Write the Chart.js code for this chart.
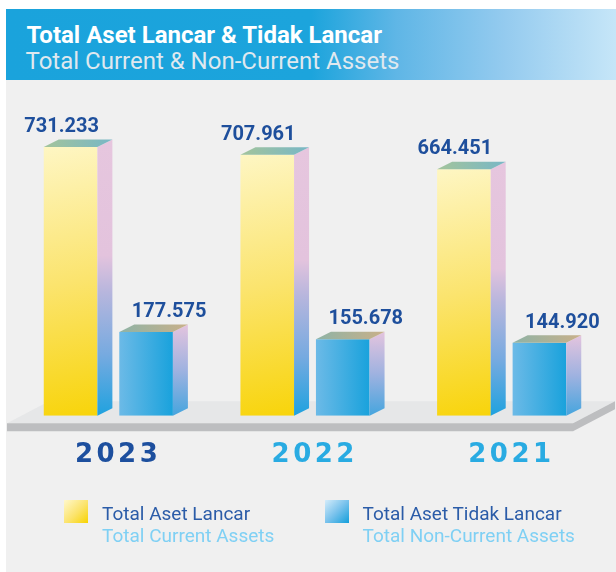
<!DOCTYPE html>
<html>
<head>
<meta charset="utf-8">
<script src="https://cdn.jsdelivr.net/npm/chart.js@4/dist/chart.umd.min.js"></script>
<style>
html,body{margin:0;padding:0;background:#fff;width:616px;height:572px;overflow:hidden;font-family:Roboto,sans-serif;}
#panel{position:absolute;left:6px;top:80px;width:610px;height:492px;background:#f0f0f0;}
#header{position:absolute;left:6px;top:9px;width:610px;height:71px;
  background:linear-gradient(90deg,#1aa3dc 0%,#1ca4dc 50%,#5fb6e6 64%,#95cbef 82%,#c6e6f8 100%);}
.ht{position:absolute;white-space:nowrap;line-height:1;font-size:24px;}
#h1{left:20.5px;top:14.1px;color:#fff;font-weight:700;}
#h2{left:19.5px;top:40.1px;color:#dfe8ef;font-weight:400;}
#wrap{position:absolute;left:0;top:80px;width:616px;height:425px;}
.sw{position:absolute;width:24px;height:23px;top:500px;}
.lt{position:absolute;white-space:nowrap;line-height:1;font-size:19px;}
.l1{color:#2b5ca8;top:504px;}
.l2{color:#7fd0f4;top:525.7px;}
</style>
</head>
<body>
<div id="panel"></div>
<div id="header">
  <div class="ht" id="h1">Total Aset Lancar &amp; Tidak Lancar</div>
  <div class="ht" id="h2">Total Current &amp; Non-Current Assets</div>
</div>
<div id="wrap"><canvas id="c" width="616" height="425"></canvas></div>

<div class="sw" style="left:64px;background:linear-gradient(135deg,#fff8cc 0%,#fbe36a 55%,#f8d300 100%);"></div>
<div class="lt l1" style="left:102px;">Total Aset Lancar</div>
<div class="lt l2" style="left:102px;">Total Current Assets</div>
<div class="sw" style="left:325px;background:linear-gradient(135deg,#d4ecfa 0%,#79c2ec 50%,#139fdb 100%);"></div>
<div class="lt l1" style="left:362.5px;">Total Aset Tidak Lancar</div>
<div class="lt l2" style="left:362.5px;">Total Non-Current Assets</div>

<script>
// ---- data (millions IDR) ----
const years = ['2023', '2022', '2021'];
const currentAssets = [731233, 707961, 664451];
const nonCurrentAssets = [177575, 155678, 144920];
const seriesNames = ['Total Aset Lancar', 'Total Aset Tidak Lancar'];

// value axis range (the drawing's floor sits below zero)
const Y_MIN = -73600;
const Y_MAX = 872000;

const DX = 15, DY = 7.5;

function fmt(v){ return v.toLocaleString('id-ID'); }

const floorAndFaces = {
  id: 'floorAndFaces',
  beforeDraw(chart){ chart.ctx.letterSpacing = '3.5px'; },
  beforeDatasetsDraw(chart){
    const ctx = chart.ctx, a = chart.chartArea;
    ctx.letterSpacing = '0px';
    const b = chart.scales.y.getPixelForValue(Y_MIN);
    const fy = b + 7.5, left = a.left - 3, right = a.right - 27, d = 42, dh = 22, th = 8;
    ctx.save();
    ctx.fillStyle = '#e6e7e8';
    ctx.beginPath();
    ctx.moveTo(left, fy); ctx.lineTo(left + d, fy - dh); ctx.lineTo(right + d, fy - dh); ctx.lineTo(right, fy);
    ctx.closePath(); ctx.fill();
    ctx.fillStyle = '#bdbec0';
    ctx.beginPath();
    ctx.moveTo(left, fy); ctx.lineTo(right, fy); ctx.lineTo(right + d, fy - dh); ctx.lineTo(right + d, fy - dh + th);
    ctx.lineTo(right, fy + th); ctx.lineTo(left, fy + th);
    ctx.closePath(); ctx.fill();
    ctx.restore();
    chart.data.datasets.forEach((ds, di) => {
      chart.getDatasetMeta(di).data.forEach(el => {
        const p = el.getProps(['x', 'y', 'base', 'width'], true);
        let g;
        if (di === 0) {
          g = ctx.createLinearGradient(p.x - p.width / 2, p.y, p.x + p.width / 2, p.base);
          g.addColorStop(0, '#fef6c3'); g.addColorStop(0.5, '#fbe46e'); g.addColorStop(1, '#f8d40a');
        } else {
          g = ctx.createLinearGradient(p.x - p.width / 2, 0, p.x + p.width / 2, 0);
          g.addColorStop(0, '#6cbae7'); g.addColorStop(1, '#19a2dc');
        }
        try { el.options.backgroundColor = g; } catch (e) {}
      });
    });
  },
  afterDatasetsDraw(chart){
    const ctx = chart.ctx;
    ctx.save();
    ctx.letterSpacing = '0px';
    chart.data.datasets.forEach((ds, di) => {
      chart.getDatasetMeta(di).data.forEach((el, i) => {
        const p = el.getProps(['x', 'y', 'base', 'width'], true);
        const xl = p.x - p.width / 2, xr = p.x + p.width / 2;
        // side face
        let g = ctx.createLinearGradient(0, p.y - DY, 0, p.base);
        if (di === 0) {
          g.addColorStop(0, '#e6c6de'); g.addColorStop(0.42, '#e3c3dd'); g.addColorStop(0.55, '#b8b6dd');
          g.addColorStop(0.78, '#76aae0'); g.addColorStop(1, '#1fa2df');
        } else {
          g.addColorStop(0, '#e4c4de'); g.addColorStop(0.5, '#9fb2e0'); g.addColorStop(1, '#45a5de');
        }
        ctx.fillStyle = g;
        ctx.beginPath();
        ctx.moveTo(xr, p.y); ctx.lineTo(xr + DX, p.y - DY); ctx.lineTo(xr + DX, p.base - DY); ctx.lineTo(xr, p.base);
        ctx.closePath(); ctx.fill();
        // top face
        g = ctx.createLinearGradient(xl, 0, xr + DX, 0);
        if (di === 0) { g.addColorStop(0, '#a3c49b'); g.addColorStop(1, '#78b7c6'); }
        else { g.addColorStop(0, '#8eb3a6'); g.addColorStop(1, '#c9b089'); }
        ctx.fillStyle = g;
        ctx.beginPath();
        ctx.moveTo(xl, p.y); ctx.lineTo(xl + DX, p.y - DY); ctx.lineTo(xr + DX, p.y - DY); ctx.lineTo(xr, p.y);
        ctx.closePath(); ctx.fill();
        // value label
        ctx.fillStyle = '#1e4f9c';
        ctx.font = 'bold 20px Roboto';
        ctx.textAlign = 'center';
        ctx.textBaseline = 'alphabetic';
        ctx.fillText(fmt(ds.data[i]), p.x + (di === 0 ? -9 : 23), p.y - 15);
      });
    });
    ctx.restore();
  }
};

new Chart(document.getElementById('c'), {
  type: 'bar',
  data: {
    labels: years,
    datasets: [
      { label: seriesNames[0], data: currentAssets, base: Y_MIN,
        backgroundColor: () => '#f9dc3a', borderWidth: 0,
        categoryPercentage: 0.768, barPercentage: 0.71 },
      { label: seriesNames[1], data: nonCurrentAssets, base: Y_MIN,
        backgroundColor: () => '#3aaae0', borderWidth: 0,
        categoryPercentage: 0.768, barPercentage: 0.71 }
    ]
  },
  options: {
    responsive: false,
    animation: false,
    layout: { padding: { left: 10, right: 16, top: 20, bottom: 10 } },
    plugins: { legend: { display: false }, tooltip: { enabled: false }, title: { display: false } },
    scales: {
      x: {
        grid: { display: false, drawTicks: false },
        border: { display: false },
        ticks: {
          font: { family: "'DejaVu Sans'", size: 26, weight: 'bold' },
          color: c => c.index === 0 ? '#1d4f9e' : '#29abe2',
          padding: 24, labelOffset: 9.75, autoSkip: false, maxRotation: 0
        }
      },
      y: { display: false, min: Y_MIN, max: Y_MAX }
    }
  },
  plugins: [floorAndFaces]
});
</script>
</body>
</html>
